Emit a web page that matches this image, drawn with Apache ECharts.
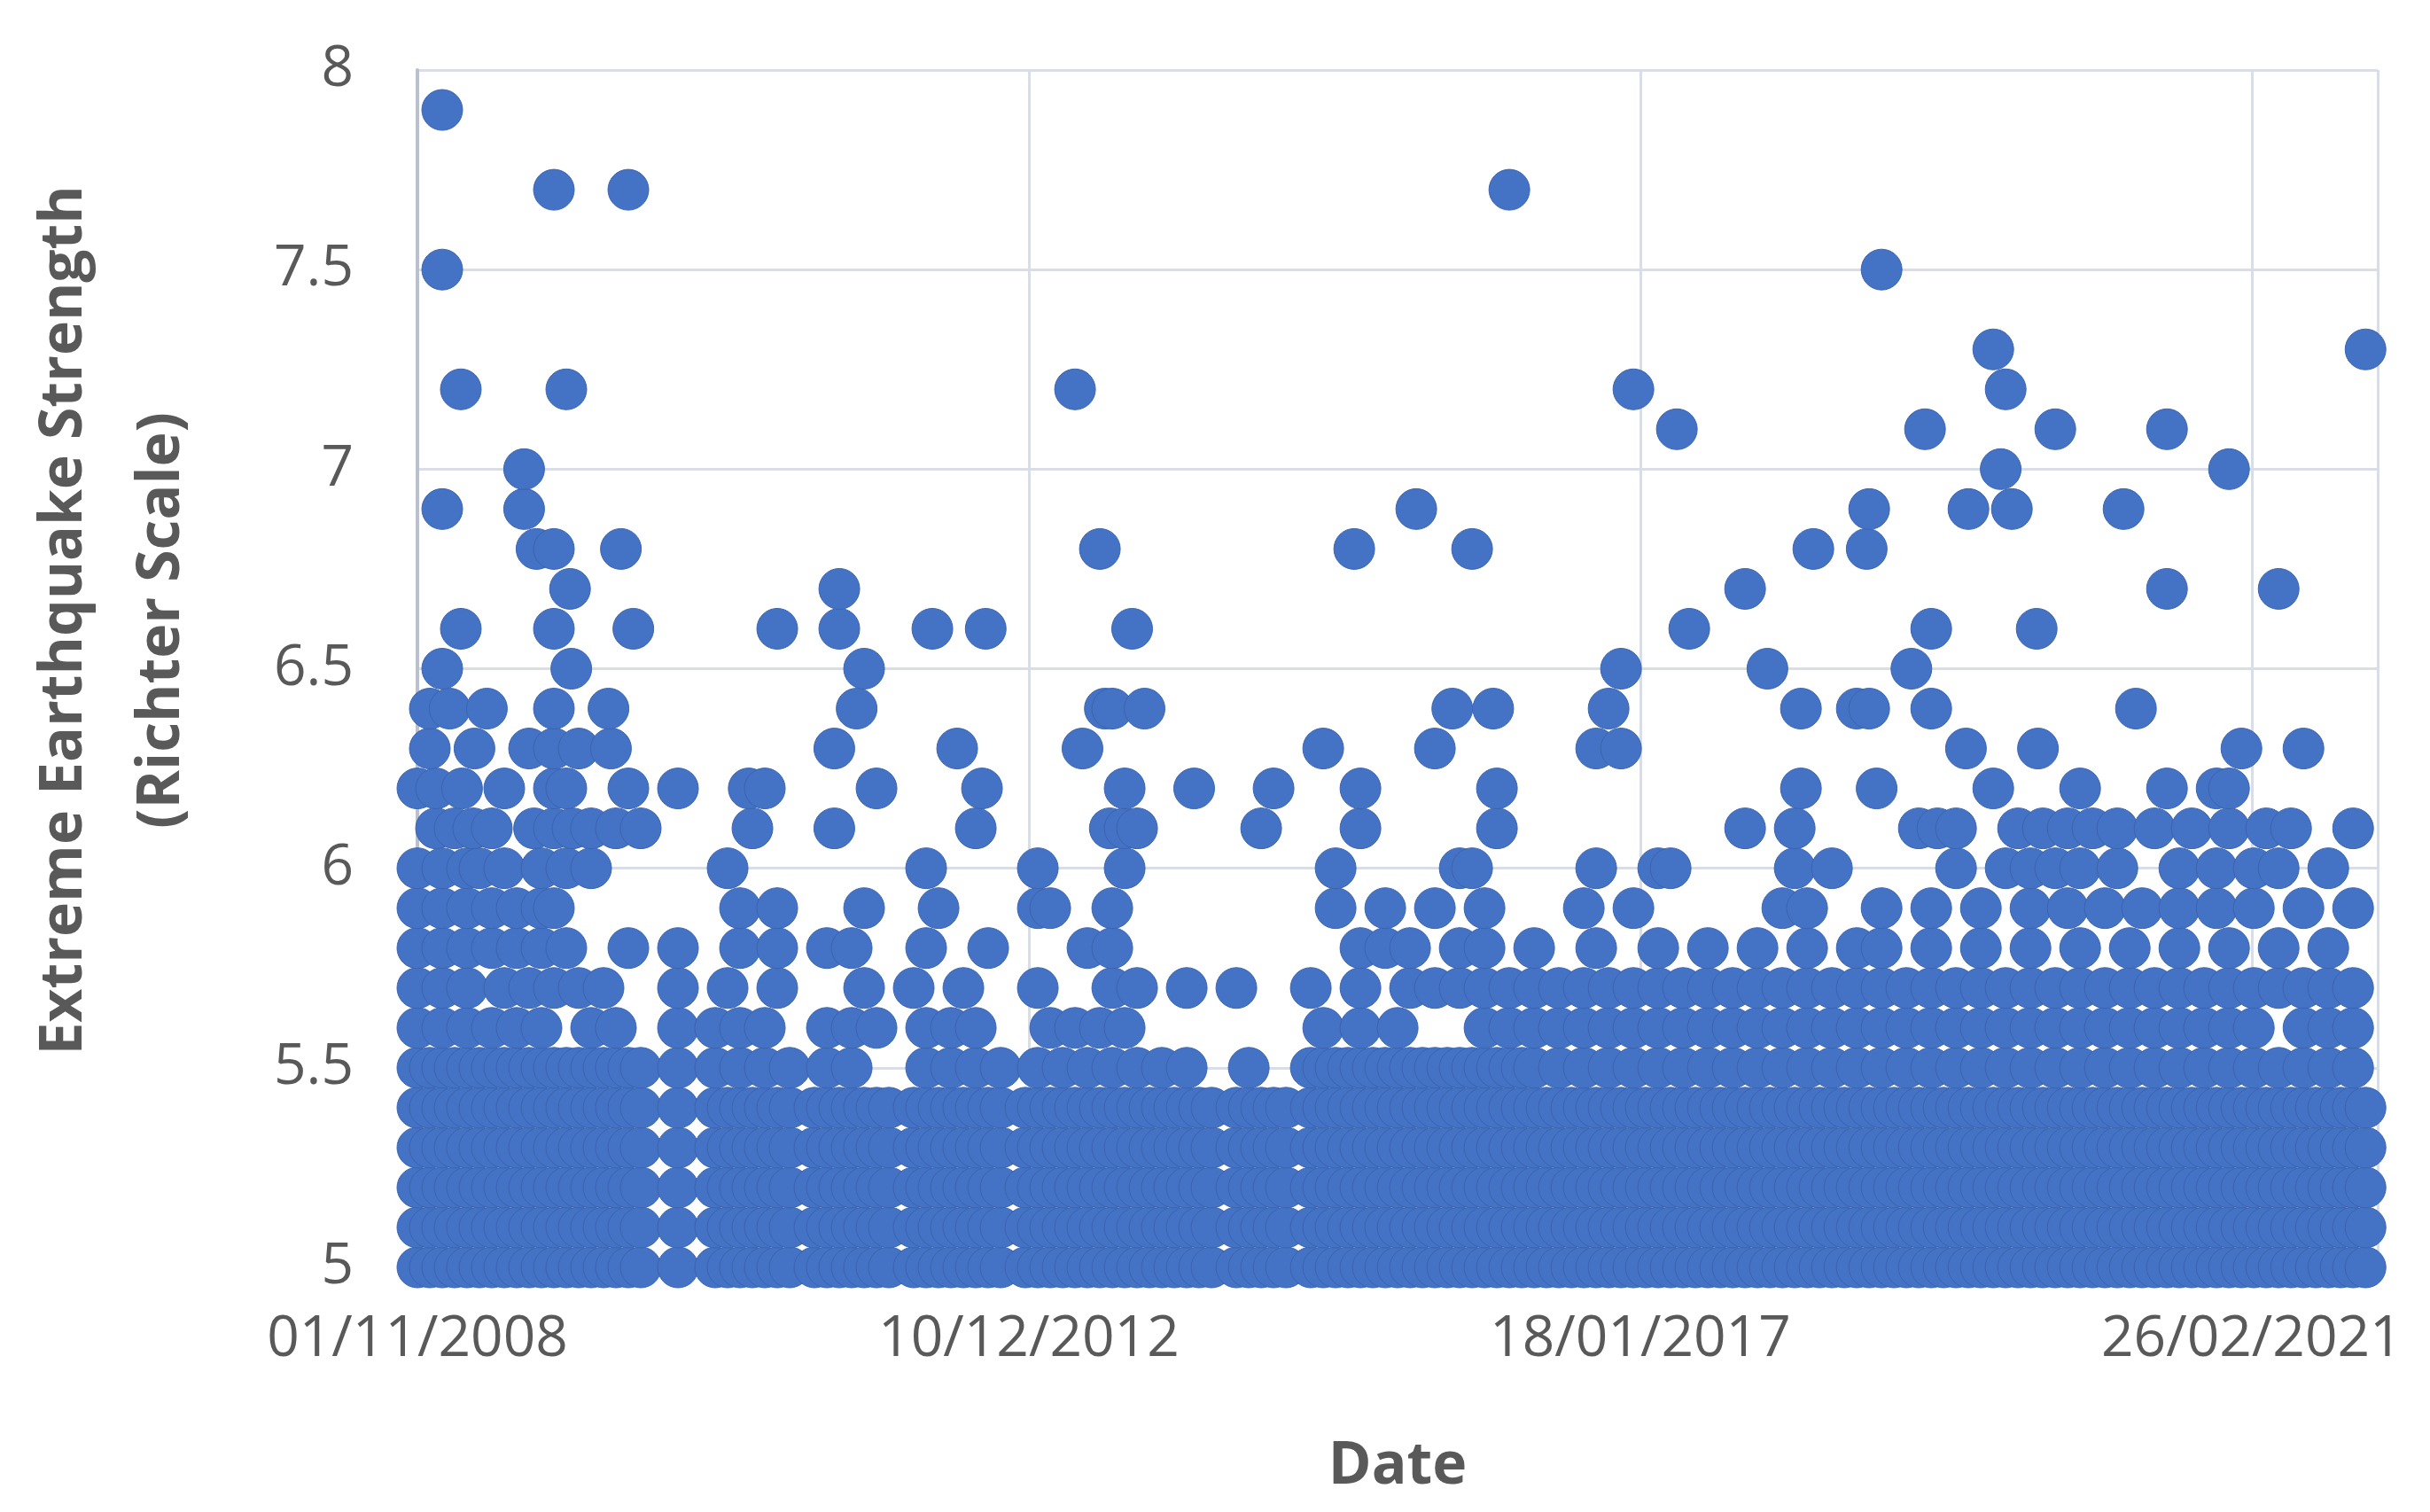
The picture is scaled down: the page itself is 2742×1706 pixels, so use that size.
<!DOCTYPE html>
<html><head><meta charset="utf-8">
<script src="https://cdn.jsdelivr.net/npm/echarts@6/dist/echarts.min.js"></script>
<style>html,body{margin:0;padding:0;background:#fff}#c{width:2742px;height:1706px}</style>
</head><body><div id="c"></div>
<script>
// Axis: days, Excel serial (01/11/2008 = 39753)
const xMin = 39753, xMax = 44562, xInterval = 1500;
const yTicks = [5, 5.5, 6, 6.5, 7, 7.5, 8];
// Dot positions per magnitude row, in months since Nov 2008
const bottomMonths = [0,1,2,3,4,5,6,7,8,9,10,11,12,13,14,15,16,17,18,21,24,25,26,27,28,29,30,32,33,34,35,36,37,38,40,41,42,43,44,45,46,47,
  49,50,51,52,53,54,55,56,57,58,59,60,61,62,63,64,66,67,68,69,70,
  72,73,74,75,76,77,78,79,80,81,82,83,84,85,86,87,88,89,90,91,92,93,94,95,96,97,98,99,100,101,102,103,104,105,106,107,108,109,110,
  111,112,113,114,115,116,117,118,119,120,121,122,123,124,125,126,127,128,129,130,131,132,133,134,135,136,137,138,139,140,
  141,142,143,144,145,146,147,148,149,150,151,152,153,154,155,156,157,158];
const row50 = bottomMonths, row51 = bottomMonths, row52 = bottomMonths, row53 = bottomMonths, row54 = bottomMonths;
const row55 = [0,1,2,3,4,5,6,7,8,9,10,11,12,13,14,15,16,17,18,21,24,26,28,30,33,35,41,43,45,47,50,52,54,56,58,60,62,67,
  72,73,74,75,76,77,78,79,80,81,82,83,84,85,86,87,88,89,90,92,94,96,98,100,102,104,106,108,110,112,114,116,118,120,122,124,126,128,130,132,134,136,138,140,142,144,146,148,150,152,154,156,158];
const row56 = [0,2,4,6,8,10,14,16,21,24,26,28,33,35,37,41,43,45,51,53,55,57,73,76,79,86,88,90,92,94,96,98,100,102,104,106,108,110,112,114,116,118,120,122,124,126,128,130,132,134,136,138,140,142,144,146,148,152,154,156,158];
const row57 = [0,2,4,7,9,11,13,15,21,25,29,36,40,44,50,56,58,62,66,72,76,80,82,84,86,88,90,92,94,96,98,100,102,104,106,108,110,112,114,116,118,120,122,124,126,128,130,132,134,136,138,140,142,144,146,148,150,152,154,156,158];
const row58 = [0,2,4,6,8,10,12,17,21,26,29,33,35,41,46,54,56,76,78,80,84,86,90,95,100,104,108,112,116,118,122,126,130,134,138,142,146,150,154];
const row59 = [0,2,4,6,8,10,11,26,29,36,42,50,51,56,74,78,82,86,94,98,110,112,118,122,126,130,133,136,139,142,145,148,152,156];
const row60 = [0,2,4,5,7,10,12,14,25,41,50,57,74,84,85,95,100,101,111,114,124,128,130,132,134,137,142,145,148,150,154];
const row61 = [1.5,3,4.5,6,9.4,11,12.5,14,16,18,27,33.6,45,55.8,57,58,68,76,87,107,111,121,122.5,124,129,131,133,135,137,140,143,146,149,151,156];
const row62 = [0,1.5,3.6,7,11,12,17,21,26.7,28,37,45.5,57,62.6,69,76,87,111.5,117.6,127,134,141,145,146];
const row63 = [1,4.6,9,11,13,15.6,33.6,43.5,53.6,73,82,95,97,124.8,130.6,147,152];
const row64 = [1,2.6,5.6,11,15.4,35.4,55.4,56,58.6,83.4,86.7,96,111.5,116,117,122,138.5];
const row65 = [2,12.4,36,97,108.8,120.4];
const row66 = [3.5,11,17.4,29,34,41.5,45.8,57.6,102.5,122,130.5];
const row67 = [12.3,34,107,141,150];
const row68 = [9.6,11,16.4,55,75.5,85,112.5,116.8];
const row69 = [2,8.6,80.5,117,125,128.5,137.5];
const row70 = [8.6,127.6,146];
const row71 = [101.5,121.5,132,141];
const row72 = [3.5,12,53,98,128];
const row73 = [127,157,158];
const row75 = [2,118];
const row77 = [11,17,88];
const row79 = [2];
const xTickLabels = ['01/11/2008','10/12/2012','18/01/2017','26/02/2021'];

const rows = [[5.0,row50],[5.1,row51],[5.2,row52],[5.3,row53],[5.4,row54],[5.5,row55],[5.6,row56],[5.7,row57],[5.8,row58],[5.9,row59],
  [6.0,row60],[6.1,row61],[6.2,row62],[6.3,row63],[6.4,row64],[6.5,row65],[6.6,row66],[6.7,row67],[6.8,row68],[6.9,row69],
  [7.0,row70],[7.1,row71],[7.2,row72],[7.3,row73],[7.5,row75],[7.7,row77],[7.9,row79]];
const data = [];
rows.forEach(([mag, months]) => months.forEach(m => data.push([xMin + m * 30.44, mag])));

const chart = echarts.init(document.getElementById('c'));
chart.setOption({
  animation: false,
  grid: {left: 471, right: 59, top: 79, bottom: 276},
  xAxis: {type: 'value', min: xMin, max: xMax, interval: xInterval,
    axisLine: {show: false}, axisTick: {show: false},
    splitLine: {show: true, lineStyle: {color: '#d9dde6', width: 3}},
    axisLabel: {color: '#595959', fontSize: 64, fontFamily: 'Open Sans', margin: 50,
      formatter: v => { const i = Math.round((v - xMin) / xInterval); return xTickLabels[i] || ''; }}},
  yAxis: {type: 'value', min: 5, max: 8, interval: 0.5,
    axisLine: {show: true, lineStyle: {color: '#b9c1d0', width: 4}}, axisTick: {show: false},
    splitLine: {show: true, lineStyle: {color: '#d9dde6', width: 3}},
    axisLabel: {color: '#595959', fontSize: 64, fontFamily: 'Open Sans', margin: 72,
      formatter: v => String(v)}},
  series: [{type: 'scatter', data: data, symbolSize: 46,
    itemStyle: {color: '#4472C4', borderColor: '#3a64b0', borderWidth: 1, opacity: 1}}],
  graphic: [
    {type: 'text', x: 1577, y: 1655, style: {text: 'Date', fontSize: 66, fontWeight: 'bold', fill: '#595959', fontFamily: 'Open Sans', textAlign: 'center', textVerticalAlign: 'middle'}},
    {type: 'text', x: 128, y: 700, rotation: Math.PI / 2, style: {text: 'Extreme Earthquake Strength\n(Richter Scale)', fontSize: 66, fontWeight: 'bold', fill: '#595959', fontFamily: 'Open Sans', textAlign: 'center', textVerticalAlign: 'middle', lineHeight: 110}}
  ]
});
</script></body></html>
